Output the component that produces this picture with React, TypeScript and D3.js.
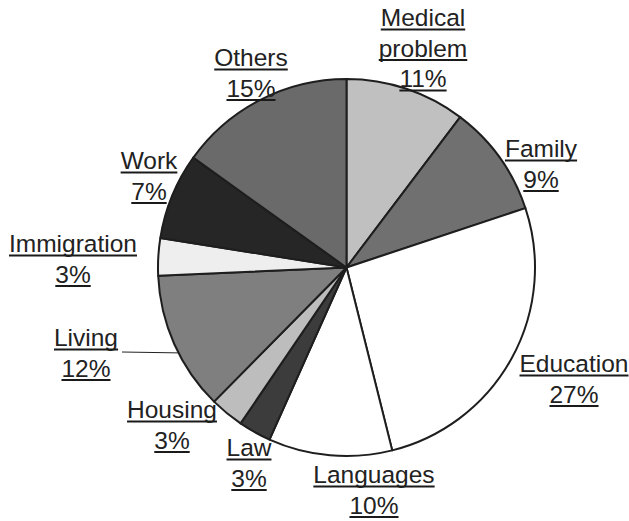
import React from 'react';
import * as d3 from 'd3';

// categories clockwise from 12 o'clock
const categories = ['Medical problem', 'Family', 'Education', 'Languages', 'Law', 'Housing', 'Living', 'Immigration', 'Work', 'Others'];
// slice sizes
const shares = [10.3, 9.6, 26.2, 10.6, 2.8, 2.9, 11.9, 3.2, 7.4, 15.1];
// percentages as printed on the labels
const pctLabels = ['11%', '9%', '27%', '10%', '3%', '3%', '12%', '3%', '7%', '15%'];
const fills = ['#c0c0c0', '#707070', '#ffffff', '#ffffff', '#3c3c3c', '#bdbdbd', '#7f7f7f', '#eeeeee', '#262626', '#6a6a6a'];

// label text lines and anchor (center x, first baseline y)
const labelLines = [['Medical', 'problem'], ['Family'], ['Education'], ['Languages'], ['Law'], ['Housing'], ['Living'], ['Immigration'], ['Work'], ['Others']];
const labelAnchors: [number, number][] = [
  [423, 26], [541, 157], [574, 372], [374, 483], [249, 456],
  [172, 418], [86, 346], [73, 252], [149, 169], [251, 66],
];

const W = 629;
const H = 521;
const cx = 346.5;
const cy = 267.5;
const R = 188.5;
const lineGap = 30.5;

type Slice = { name: string; value: number; fill: string; idx: number };

function drawChart(node: SVGSVGElement) {
  const svg = d3.select(node);
  svg.selectAll('*').remove();

  const data: Slice[] = categories.map((name, i) => ({ name, value: shares[i], fill: fills[i], idx: i }));
  const pie = d3.pie<Slice>().value((d) => d.value).sort(null);
  const arc = d3.arc<d3.PieArcDatum<Slice>>().innerRadius(0).outerRadius(R);
  const arcs = pie(data);

  const g = svg.append('g').attr('transform', `translate(${cx},${cy})`);
  g.selectAll('path')
    .data(arcs)
    .enter()
    .append('path')
    .attr('d', arc)
    .attr('fill', (d) => d.data.fill)
    .attr('stroke', '#1e1e1e')
    .attr('stroke-width', 2)
    .attr('stroke-linejoin', 'round');

  // leader line for Living
  const living = arcs[6];
  const a = living.startAngle + (living.endAngle - living.startAngle) * 0.43;
  const ex = cx + R * Math.sin(a);
  const ey = cy - R * Math.cos(a);
  svg.append('path')
    .attr('d', `M${labelAnchors[6][0] + 36},${labelAnchors[6][1] + 6}L${ex},${ey}`)
    .attr('fill', 'none')
    .attr('stroke', '#222')
    .attr('stroke-width', 1);

  // labels
  arcs.forEach((d, i) => {
    const lines = [...labelLines[i], pctLabels[i]];
    const [lx, ly] = labelAnchors[i];
    lines.forEach((txt, k) => {
      const y = ly + k * lineGap;
      const t = svg.append('text')
        .attr('x', lx)
        .attr('y', y)
        .attr('text-anchor', 'middle')
        .attr('font-family', '"Liberation Sans", Arial, sans-serif')
        .attr('font-size', 24.5)
        .attr('fill', '#222')
        .text(txt);
      const w = (t.node() as SVGTextElement).getComputedTextLength();
      svg.append('line')
        .attr('x1', lx - w / 2)
        .attr('x2', lx + w / 2)
        .attr('y1', y + 3.5)
        .attr('y2', y + 3.5)
        .attr('stroke', '#1a1a1a')
        .attr('stroke-width', 2.2);
    });
  });
}

export default function App() {
  const ref = React.useRef<SVGSVGElement>(null);
  React.useEffect(() => {
    if (ref.current) drawChart(ref.current);
  }, []);
  return (
    <svg
      ref={ref}
      width={W}
      height={H}
      style={{ position: 'absolute', left: 0, top: 0, background: '#fff' }}
    />
  );
}
